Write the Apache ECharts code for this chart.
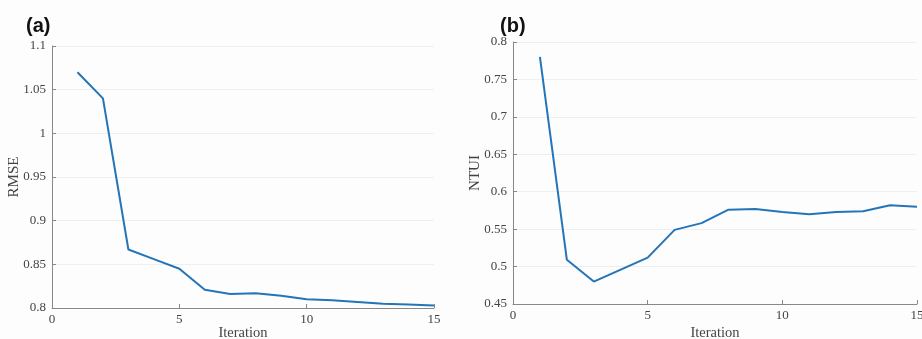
<!DOCTYPE html>
<html><head><meta charset="utf-8">
<script src="https://cdn.jsdelivr.net/npm/echarts@6/dist/echarts.min.js"></script>
<style>html,body{margin:0;padding:0;background:#fdfdfd;}#c{width:922px;height:339px;}</style>
</head><body><div id="c"></div>
<script>
const iterations = [1,2,3,4,5,6,7,8,9,10,11,12,13,14,15];
const rmse = [1.070,1.040,0.867,0.856,0.845,0.821,0.816,0.817,0.814,0.810,0.809,0.807,0.805,0.804,0.803];
const ntui = [0.780,0.509,0.480,0.496,0.512,0.549,0.558,0.576,0.577,0.573,0.570,0.573,0.574,0.582,0.580];
const panelLabels = ['(a)','(b)'];
const yNames = ['RMSE','NTUI'];
const xName = 'Iteration';

const serif = '"Liberation Serif", "DejaVu Serif", serif';
const tickStyle = {fontFamily: serif, fontSize: 13, color: '#444'};
function xAxis(idx, gap){
  return {type:'value', gridIndex: idx, min:0, max:15, interval:5,
    name: xName, nameLocation:'middle', nameGap: gap, nameMoveOverlap:false,
    nameTextStyle:{fontFamily: serif, fontSize:14.5, color:'#444'},
    axisLine:{show:true, lineStyle:{color:'#888', width:1}},
    axisTick:{show:true, inside:true, length:4, lineStyle:{color:'#888'}},
    axisLabel:{...tickStyle, margin:5, showMaxLabel:true},
    splitLine:{show:false}};
}
function yAxis(idx, min, max, interval, gap){
  return {type:'value', gridIndex: idx, min, max, interval,
    name: yNames[idx], nameLocation:'middle', nameGap: gap, nameMoveOverlap:false,
    nameTextStyle:{fontFamily: serif, fontSize:15, color:'#444'},
    axisLine:{show:true, lineStyle:{color:'#888', width:1}},
    axisTick:{show:true, inside:true, length:4, lineStyle:{color:'#888'}},
    axisLabel:{...tickStyle, margin:6},
    splitLine:{show:true, lineStyle:{color:'#efefef', width:1}}};
}
const chart = echarts.init(document.getElementById('c'), null, {renderer:'canvas'});
chart.setOption({
  backgroundColor:'#fdfdfd',
  animation:false,
  title:[
    {text:panelLabels[0], left:21, top:11, textStyle:{fontFamily:'"Liberation Sans", Arial, sans-serif', fontSize:20, fontWeight:'bold', color:'#111'}},
    {text:panelLabels[1], left:495, top:11, textStyle:{fontFamily:'"Liberation Sans", Arial, sans-serif', fontSize:20, fontWeight:'bold', color:'#111'}}
  ],
  grid:[
    {left:52, right:488, top:46, bottom:31, containLabel:false, outerBoundsMode:'none'},
    {left:513, right:5, top:42, bottom:35, containLabel:false, outerBoundsMode:'none'}
  ],
  xAxis:[xAxis(0, 18), xAxis(1, 22)],
  yAxis:[yAxis(0, 0.8, 1.1, 0.05, 30), yAxis(1, 0.45, 0.8, 0.05, 30)],
  series:[
    {type:'line', xAxisIndex:0, yAxisIndex:0, data: iterations.map((x,i)=>[x, rmse[i]]),
     showSymbol:false, lineStyle:{color:'#2474b8', width:2}},
    {type:'line', xAxisIndex:1, yAxisIndex:1, data: iterations.map((x,i)=>[x, ntui[i]]),
     showSymbol:false, lineStyle:{color:'#2474b8', width:2}}
  ]
});
</script></body></html>
